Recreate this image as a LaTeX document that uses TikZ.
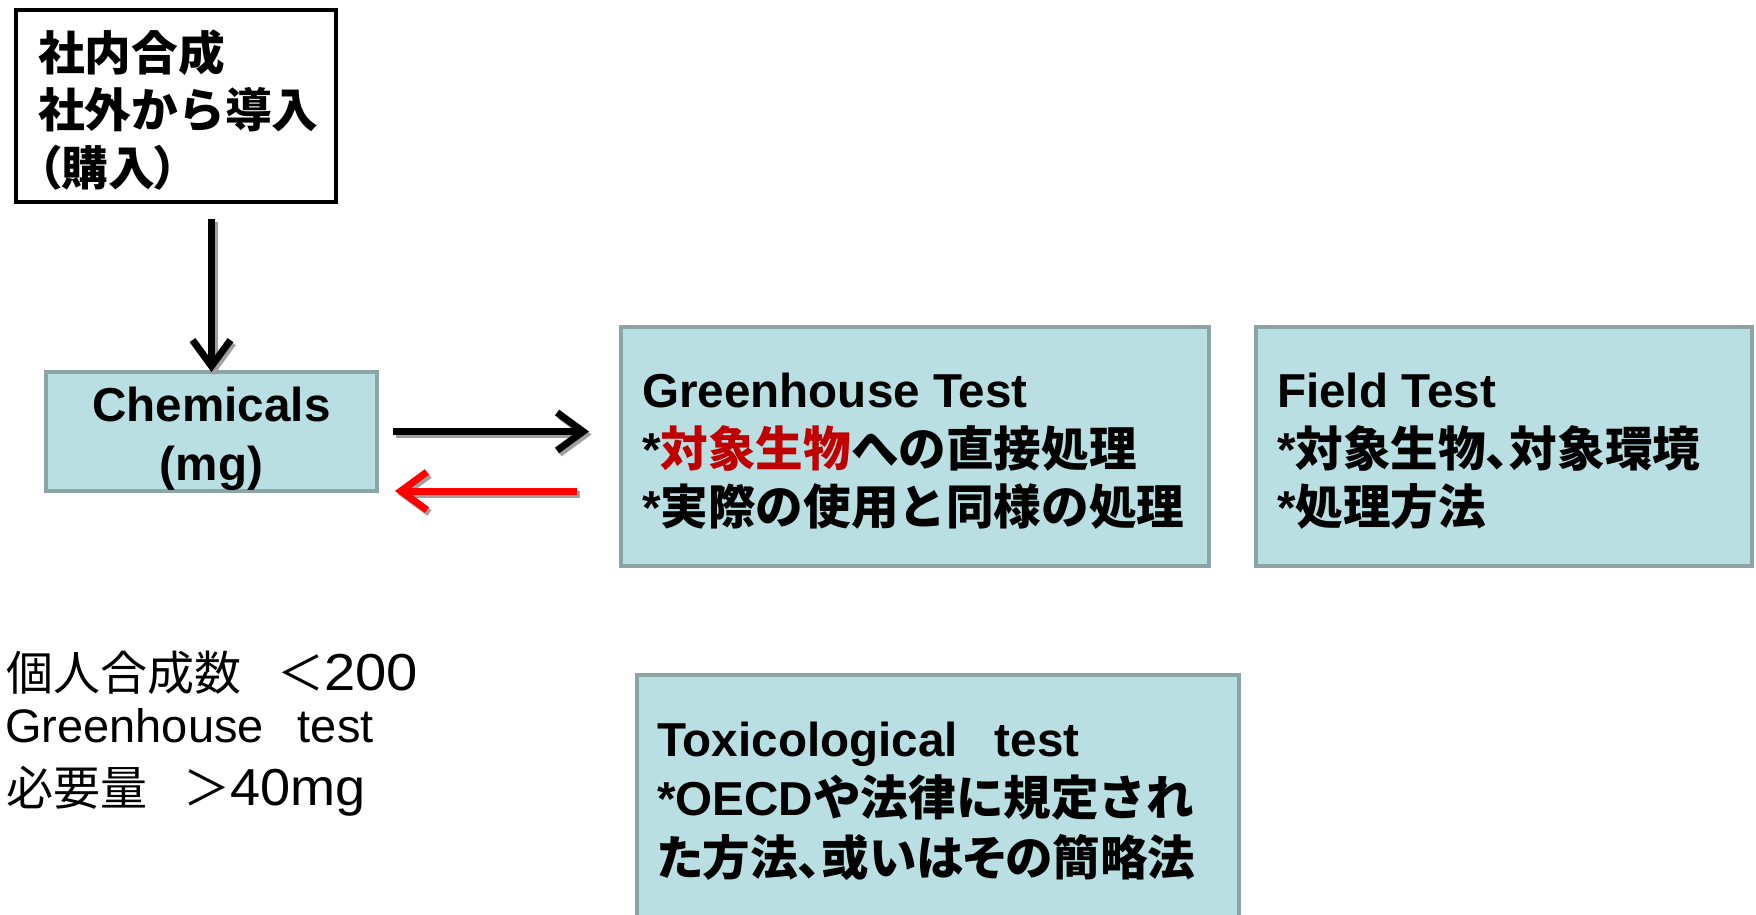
\documentclass[tikz,border=0pt]{standalone}
\usepackage{fontspec}
\setmainfont{Liberation Sans}
\newfontfamily\jpf{Noto Sans CJK JP}
\newfontfamily\jpp{Noto Sans CJK JP}[RawFeature=+palt]
\newcommand{\jt}[1]{{\jpf #1}}
\newcommand{\jtp}[1]{{\jpp #1}}
\usetikzlibrary{arrows.meta}
\definecolor{boxfill}{RGB}{185,223,227}
\definecolor{boxline}{RGB}{139,164,166}
\definecolor{darkred}{RGB}{192,0,0}
\definecolor{shadowgray}{RGB}{160,160,160}
\begin{document}
\begin{tikzpicture}[x=1pt,y=-1pt,
  box/.style={draw=boxline, fill=boxfill, line width=4.5pt, inner sep=0pt, outer sep=0pt, anchor=north west},
  plainbox/.style={draw=black, line width=4pt, inner sep=0pt, outer sep=0pt, anchor=north west},
  bt/.style={font=\fontsize{47.6}{58}\selectfont\bfseries, inner sep=0pt, anchor=base west},
  tt/.style={font=\fontsize{46.7}{58}\selectfont\bfseries, inner sep=0pt, anchor=base west},
  ct/.style={font=\fontsize{47.6}{58}\selectfont\bfseries, inner sep=0pt, anchor=base},
  lt/.style={font=\fontsize{47}{58}\selectfont, inner sep=0pt, anchor=base west},
  arr/.style={line width=7pt, -{Straight Barb[length=26pt,width=38pt]}},
  shadowed/.style={shadowgray, transform canvas={shift={(2.5pt,-3pt)}}},
]
\useasboundingbox (0,0) rectangle (1756,914);
\clip (0,0) rectangle (1756,914);

% boxes
\node[plainbox, minimum width=320pt, minimum height=192pt] (top) at (16,10) {};
\node[box, minimum width=331pt, minimum height=119pt] (chem) at (46,372) {};
\node[box, minimum width=588pt, minimum height=239pt] (gh) at (621,327) {};
\node[box, minimum width=496pt, minimum height=239pt] (field) at (1256,327) {};
\node[box, minimum width=602pt, minimum height=290pt] (tox) at (637,675) {};

% top box text
\node[tt] (tp1) at (38,70) {\jt{社内合成}};
\node[tt] (tp2) at (38,127) {\jt{社外から導入}};
\node[tt] (tp3) at (38,185) {\jtp{（購入）}};

% chemicals text
\node[ct] (ch1) at (chem.center |- 0,421) {Chemicals};
\node[ct] (ch2) at (chem.center |- 0,480) {(mg)};

% greenhouse text
\node[bt] (gh1) at (642,407) {Greenhouse Test};
\node[bt] (gh2) at (642,466) {*\jt{\textcolor{darkred}{対象生物}への直接処理}};
\node[bt] (gh3) at (642,524) {*\jt{実際の使用と同様の処理}};

% field text
\node[bt] (fd1) at (1277,407) {Field Test};
\node[bt] (fd2) at (1277,466) {*\jtp{対象生物、対象環境}};
\node[bt] (fd3) at (1277,524) {*\jt{処理方法}};

% toxicological text
\node[bt] (tx1) at (657,756) {Toxicological\hspace{37pt}test};
\node[bt] (tx2) at (657,815) {*OECD\jt{や法律に規定され}};
\node[bt] (tx3) at (657,875) {\jtp{た方法、或いはその簡略法}};

% left notes
\node[lt] (n1) at (6,690) {\jt{個人合成数}\hspace{36pt}\jt{＜}\scalebox{1.08}[1]{\fontsize{52}{58}\selectfont 200}};
\node[lt] (n2) at (5,742) {Greenhouse\hspace{34pt}test};
\node[lt] (n3) at (6,805) {\jt{必要量}\hspace{36pt}\jt{＞}\scalebox{1.04}[1]{\fontsize{52}{58}\selectfont 40mg}};

% connectors
\coordinate (vdStart) at (chem.north |- top.south);
\coordinate (bEnd) at (gh.west |- chem.east);
\coordinate (rStart) at (gh.west |- chem.south);
\coordinate (rEnd) at (chem.south east);

\draw[arr, shadowed, shorten <=17pt] (vdStart) -- (chem.north);
\draw[arr, black, shorten <=17pt] (vdStart) -- (chem.north);

\draw[arr, shadowed, shorten <=16pt, shorten >=32pt] (chem.east) -- (bEnd);
\draw[arr, black, shorten <=16pt, shorten >=32pt] (chem.east) -- (bEnd);

\draw[arr, shadowed, shorten <=44pt, shorten >=18pt] (rStart) -- (rEnd);
\draw[arr, red, shorten <=44pt, shorten >=18pt] (rStart) -- (rEnd);
\end{tikzpicture}
\end{document}
